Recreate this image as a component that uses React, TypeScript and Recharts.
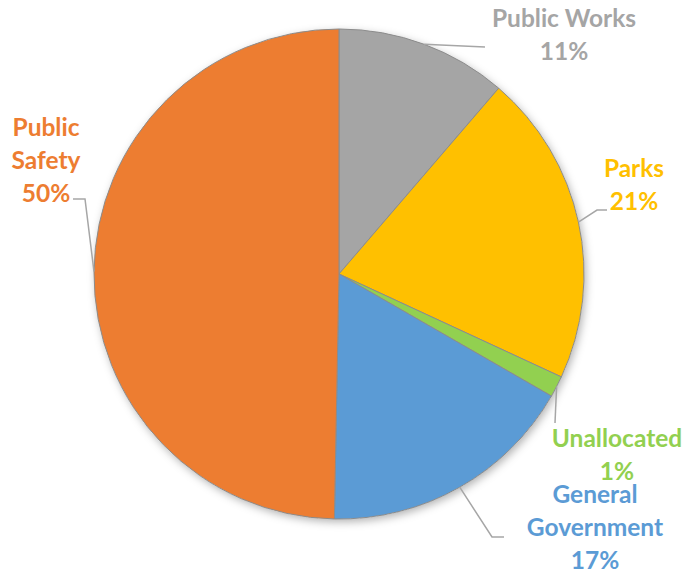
import { Cell, Pie, PieChart, Sector } from "recharts";

const categories = [
  "Public Works",
  "Parks",
  "Unallocated",
  "General Government",
  "Public Safety",
];
const shares = [11.3, 20.6, 1.4, 17.0, 49.7];
const colors = ["#A5A5A5", "#FFC000", "#92D050", "#5B9BD5", "#ED7D31"];

const data = categories.map((name, i) => ({ name, value: shares[i] }));

// where each label and its leader line sit (Excel-style placement)
const labelLayout: Record<
  string,
  { bends: [number, number][]; textX: number; baseline: number; wrap: boolean }
> = {
  "Public Works": { bends: [[485, 47]], textX: 564, baseline: 27, wrap: false },
  Parks: { bends: [[597, 210], [607, 210]], textX: 634, baseline: 177, wrap: false },
  Unallocated: { bends: [[555, 423]], textX: 617, baseline: 447, wrap: false },
  "General Government": { bends: [[492, 537], [504, 537]], textX: 595, baseline: 503, wrap: true },
  "Public Safety": { bends: [[85, 199], [73, 199]], textX: 46, baseline: 136, wrap: true },
};

const RAD = Math.PI / 180;
const LINE_GAP = 33;

function renderLabel(props: any) {
  const { cx, cy, midAngle, outerRadius, percent, name, index } = props;
  const layout = labelLayout[name];
  if (!layout) return null;
  const ex = cx + outerRadius * Math.cos(-midAngle * RAD);
  const ey = cy + outerRadius * Math.sin(-midAngle * RAD);
  const pts = [[ex, ey], ...layout.bends].map((p) => p.join(",")).join(" ");
  const lines = layout.wrap ? name.split(" ") : [name];
  lines.push(`${Math.round(percent * 100)}%`);
  return (
    <g key={name}>
      <polyline points={pts} fill="none" stroke="#A6A6A6" strokeWidth={1.5} />
      <text
        x={layout.textX}
        textAnchor="middle"
        fill={colors[index]}
        fontFamily="Lato, 'Open Sans', sans-serif"
        fontWeight={700}
        fontSize={24.5}
      >
        {lines.map((line: string, i: number) => (
          <tspan key={i} x={layout.textX} y={layout.baseline + i * LINE_GAP}>
            {line}
          </tspan>
        ))}
      </text>
    </g>
  );
}

export default function App() {
  return (
    <div
      style={{
        position: "absolute",
        left: 0,
        top: 0,
        width: 686,
        height: 574,
        background: "#fff",
      }}
    >
      <svg width={0} height={0} style={{ position: "absolute" }}>
        <defs>
          <filter id="pieShadow" x="-10%" y="-10%" width="130%" height="130%">
            <feDropShadow dx="2" dy="3" stdDeviation="4" floodColor="#000" floodOpacity="0.3" />
          </filter>
        </defs>
      </svg>
      <PieChart width={686} height={574} margin={{ top: 0, right: 0, bottom: 0, left: 0 }}>
        <Pie
          data={[{ name: "shadow", value: 1 }]}
          dataKey="value"
          cx={339}
          cy={274}
          outerRadius={245}
          fill="#fff"
          stroke="none"
          isAnimationActive={false}
          shape={(p: any) => (
            <g filter="url(#pieShadow)">
              <Sector {...p} />
            </g>
          )}
        />
        <Pie
          data={data}
          dataKey="value"
          nameKey="name"
          cx={339}
          cy={274}
          outerRadius={245}
          startAngle={90}
          endAngle={-270}
          stroke="#8C8C8C"
          strokeWidth={1}
          label={renderLabel}
          labelLine={false}
          isAnimationActive={false}
        >
          {data.map((d, i) => (
            <Cell key={d.name} fill={colors[i]} />
          ))}
        </Pie>
      </PieChart>
    </div>
  );
}
